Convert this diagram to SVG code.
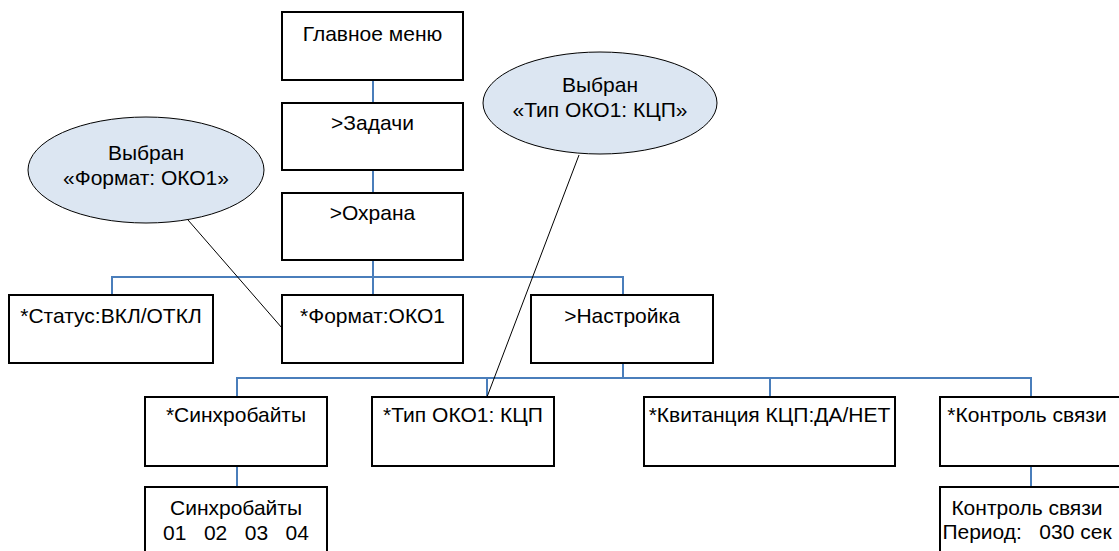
<svg xmlns="http://www.w3.org/2000/svg" width="1119" height="551" viewBox="0 0 1119 551">
<style>
.box{fill:#ffffff;stroke:#000000;stroke-width:2}
.ell{fill:#dce6f2;stroke:#000000;stroke-width:1}
.t{font-family:"Liberation Sans",Arial,sans-serif;font-size:21px;fill:#000000;text-anchor:middle;white-space:pre}
.c{fill:none;stroke:#4a7ebb;stroke-width:2}
.n{fill:none;stroke:#000000;stroke-width:1}
</style>
<rect width="1119" height="551" fill="#ffffff"/>
<g id="connectors">
<path class="c" d="M373,80V103M373,170V193M373,260V295M112,295V277H623V295"/>
<path class="c" d="M623,363V378M237,397V378H1031V397M487,378V397M770,378V397"/>
<path class="c" d="M237,466V487M1031,466V487"/>
<path class="n" d="M188,220L282,328"/>
<path class="n" d="M579,155L487,397"/>
</g>
<g id="n-main"><rect class="box" x="282" y="12" width="181" height="68"/><text class="t" x="372.5" y="41">Главное меню</text></g>
<g id="n-tasks"><rect class="box" x="282" y="103" width="181" height="67"/><text class="t" x="372.5" y="130">&gt;Задачи</text></g>
<g id="n-guard"><rect class="box" x="282" y="193" width="181" height="67"/><text class="t" x="372.5" y="220">&gt;Охрана</text></g>
<g id="n-status"><rect class="box" x="9" y="295" width="204" height="68"/><text class="t" x="111" y="323">*Статус:ВКЛ/ОТКЛ</text></g>
<g id="n-format"><rect class="box" x="282" y="295" width="181" height="68"/><text class="t" x="372.5" y="323">*Формат:ОКО1</text></g>
<g id="n-setup"><rect class="box" x="531" y="295" width="182" height="68"/><text class="t" x="622" y="323">&gt;Настройка</text></g>
<g id="n-sync"><rect class="box" x="145" y="397" width="182" height="69"/><text class="t" x="236" y="422">*Синхробайты</text></g>
<g id="n-type"><rect class="box" x="372" y="397" width="182" height="69"/><text class="t" x="463" y="422">*Тип ОКО1: КЦП</text></g>
<g id="n-ack"><rect class="box" x="644" y="397" width="251" height="69"/><text class="t" x="769.5" y="422">*Квитанция КЦП:ДА/НЕТ</text></g>
<g id="n-link"><rect class="box" x="940" y="397" width="182" height="69"/><text class="t" x="1027" y="422">*Контроль связи</text></g>
<g id="n-syncval"><rect class="box" x="145" y="487" width="182" height="80"/><text class="t" x="236" y="515">Синхробайты</text><text class="t" x="236" y="540">01   02   03   04</text></g>
<g id="n-linkval"><rect class="box" x="940" y="487" width="182" height="80"/><text class="t" x="1027" y="515">Контроль связи</text><text class="t" x="1027" y="539">Период:   030 сек</text></g>
<g id="n-note1"><ellipse class="ell" cx="146" cy="170" rx="118" ry="53"/><text class="t" x="146" y="160">Выбран</text><text class="t" x="146" y="185">«Формат: ОКО1»</text></g>
<g id="n-note2"><ellipse class="ell" cx="600" cy="103" rx="117" ry="51"/><text class="t" x="600" y="92">Выбран</text><text class="t" x="600" y="117">«Тип ОКО1: КЦП»</text></g>
</svg>
